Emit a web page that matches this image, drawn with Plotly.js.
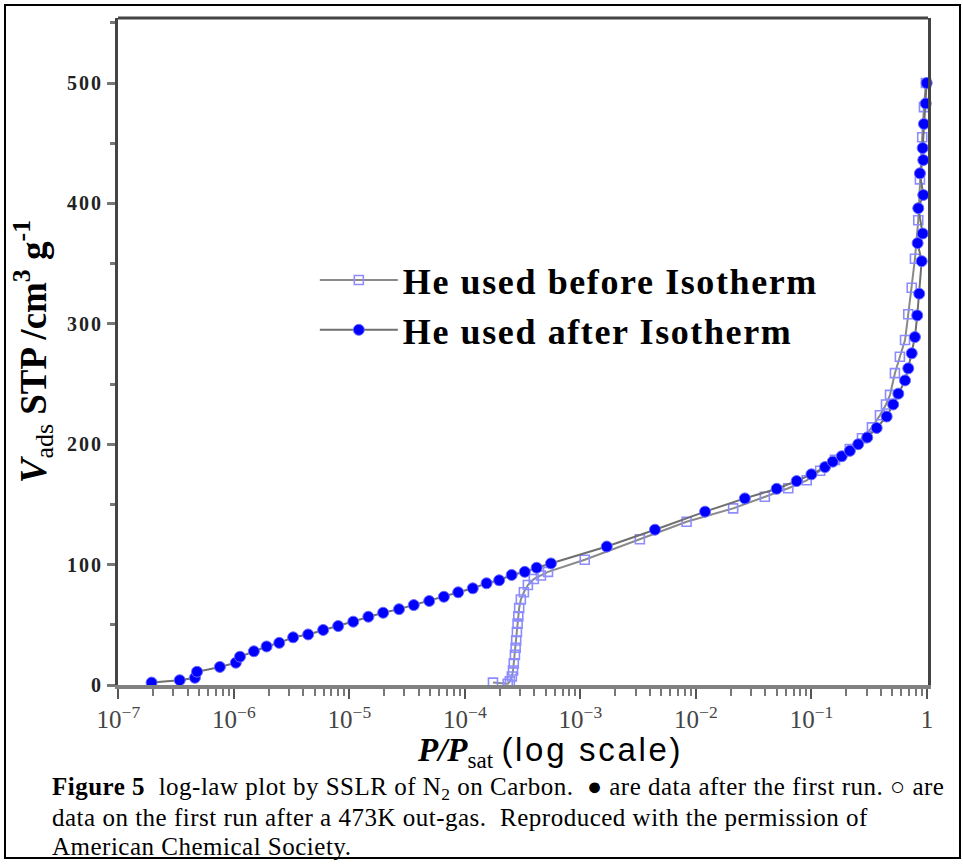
<!DOCTYPE html>
<html>
<head>
<meta charset="utf-8">
<script src="https://cdn.plot.ly/plotly-3.0.1.min.js"></script>
<style>html,body{margin:0;padding:0;background:#fff;}#chart{width:963px;height:865px;}</style>
</head>
<body>
<div id="chart"></div>
<script>
// "He used before Isotherm" (open squares)
const beforeP = [1.75e-4, 2.35e-4, 2.45e-4, 2.55e-4, 2.61e-4, 2.65e-4, 2.71e-4, 2.75e-4, 2.78e-4, 2.82e-4,
  2.86e-4, 2.90e-4, 2.95e-4, 3.05e-4, 3.24e-4, 3.51e-4, 3.95e-4, 4.55e-4, 5.24e-4,
  1.09e-3, 3.27e-3, 8.3e-3, 2.10e-2, 3.95e-2, 6.3e-2, 9.1e-2, 0.119, 0.160, 0.215, 0.274, 0.334, 0.392, 0.442,
  0.479, 0.528, 0.583, 0.646, 0.689, 0.738, 0.787, 0.841, 0.869, 0.91, 0.942, 0.98];
const beforeV = [2, 1, 3, 7, 12, 18, 25, 31, 37, 44,
  51, 57, 64, 71, 77, 83, 88, 91, 94,
  104, 121, 135.6, 146.7, 156.4, 163.4, 170, 178, 187, 196, 205, 214, 224, 233,
  241, 259, 272.7, 286.5, 308, 330, 354, 386, 420, 455, 480, 500];

// "He used after Isotherm" (filled circles)
const afterP = [1.94e-7, 3.4e-7, 4.6e-7, 4.8e-7, 7.57e-7, 1.04e-6, 1.13e-6, 1.49e-6, 1.92e-6, 2.47e-6,
  3.26e-6, 4.40e-6, 5.93e-6, 8.0e-6, 1.08e-5, 1.46e-5, 1.96e-5, 2.69e-5, 3.61e-5, 4.91e-5,
  6.58e-5, 8.75e-5, 1.17e-4, 1.54e-4, 1.98e-4, 2.54e-4, 3.30e-4, 4.18e-4, 5.56e-4, 1.69e-3,
  4.42e-3, 1.20e-2, 2.65e-2, 5.0e-2, 7.45e-2, 0.100, 0.131, 0.153, 0.183, 0.215,
  0.254, 0.304, 0.367, 0.448, 0.510, 0.565, 0.646, 0.689, 0.738, 0.787,
  0.824, 0.857, 0.90, 0.83, 0.918, 0.841, 0.929, 0.869, 0.929, 0.918, 0.942, 0.975, 0.993];
const afterV = [2, 4, 6, 11, 15, 18.5, 23.5, 28, 32, 35,
  39.6, 42, 45.7, 49, 52.6, 56.7, 60, 63, 66.4, 69.8,
  73.3, 77, 80.3, 84.5, 87, 91.4, 94, 97.4, 101, 115,
  129, 144, 155, 163, 169.4, 175, 181, 185.5, 190, 194.5,
  200, 205.6, 213.5, 223, 233, 242, 253, 263, 275.5, 289,
  307, 325, 352, 367, 375, 396, 407, 425, 436, 446, 466, 483, 500];

const seriesNames = ['He used before Isotherm', 'He used after Isotherm'];
const yTickVals = [0, 100, 200, 300, 400, 500];
const yTickText = ['0', '100', '200', '300', '400', '500'];

const serif = 'Liberation Serif, Times New Roman, serif';
const spaced = (s, px) => '<span style="letter-spacing:' + px + 'px">' + s + '</span>';

const traces = [
  {
    x: beforeP, y: beforeV, name: spaced(seriesNames[0], 1.6), type: 'scatter', mode: 'lines+markers',
    line: {color: '#8a8a8a', width: 2},
    marker: {symbol: 'square-open', size: 9, color: '#8c8cff', line: {width: 1.6, color: '#8c8cff'}},
    cliponaxis: false
  },
  {
    x: afterP, y: afterV, name: spaced(seriesNames[1], 1.6), type: 'scatter', mode: 'lines+markers',
    line: {color: '#6f6f6f', width: 2},
    marker: {symbol: 'circle', size: 11, color: '#0000ff', line: {width: 1, color: '#6a6aff'}},
    cliponaxis: false
  }
];

const capFont = {family: serif, size: 25, color: '#000'};

const layout = {
  width: 963, height: 865,
  margin: {l: 118, r: 35, t: 18, b: 180},
  paper_bgcolor: '#ffffff', plot_bgcolor: '#ffffff',
  showlegend: true,
  legend: {
    x: 0.243, y: 0.652, xanchor: 'left', yanchor: 'top',
    bgcolor: 'rgba(0,0,0,0)', itemwidth: 78, tracegroupgap: 0,
    font: {family: serif, size: 36, color: '#000', weight: 'bold'}
  },
  xaxis: {
    type: 'log', range: [-7.003, 0.009], dtick: 1,
    exponentformat: 'power', showgrid: false, zeroline: false,
    showline: true, linecolor: '#808080', linewidth: 4,
    ticks: 'outside', ticklen: 10, tickwidth: 2, tickcolor: '#555',
    minor: {ticks: 'outside', ticklen: 7, tickwidth: 2, tickcolor: '#777', showgrid: false},
    tickfont: {family: serif, size: 20, color: '#444'},
    automargin: false
  },
  yaxis: {
    range: [0, 554], tickmode: 'array', tickvals: yTickVals, ticktext: yTickText.map(t => spaced(t, 2)),
    showgrid: false, zeroline: false,
    showline: true, mirror: true, linecolor: '#444', linewidth: 3,
    ticks: 'outside', ticklen: 8, tickwidth: 3, tickcolor: '#777',
    minor: {tickmode: 'linear', tick0: 0, dtick: 50, ticks: 'outside', ticklen: 5, tickwidth: 3, tickcolor: '#777', showgrid: false},
    tickfont: {family: serif, size: 20, color: '#222', weight: 'bold'},
    title: {text: '<b><i>V</i></b><sub>ads</sub><b> STP /cm<sup>3</sup> g<sup>-1</sup></b>',
            font: {family: serif, size: 37, color: '#000'}, standoff: 10},
    automargin: false
  },
  shapes: [
    {type: 'line', xref: 'paper', yref: 'paper', x0: 0, x1: 1, y0: 1, y1: 1, line: {color: '#444', width: 3}},
    {type: 'rect', xref: 'paper', yref: 'paper', x0: -0.1395, x1: 1.0395, y0: -0.2594, y1: 1.0195,
     line: {color: '#000', width: 2}, fillcolor: 'rgba(0,0,0,0)'}
  ],
  annotations: [
    {xref: 'paper', yref: 'paper', x: 0.533, y: -0.1005, xanchor: 'center', yanchor: 'middle', showarrow: false,
     text: '<b><i>P/P</i></b><sub>sat</sub> <span style="font-family:Liberation Sans;letter-spacing:2.7px">(log scale)</span>',
     font: {family: serif, size: 33, color: '#000'}},
    {xref: 'paper', yref: 'paper', x: -0.084, y: -0.1545, xanchor: 'left', yanchor: 'middle', showarrow: false,
     text: spaced('<b>Figure 5</b>  log-law plot by SSLR of N<sub>2</sub> on Carbon.  \u25CF are data after the first run. \u25CB are', 0.5),
     font: capFont},
    {xref: 'paper', yref: 'paper', x: -0.084, y: -0.1985, xanchor: 'left', yanchor: 'middle', showarrow: false,
     text: spaced('data on the first run after a 473K out-gas.  Reproduced with the permission of', 0.5),
     font: capFont},
    {xref: 'paper', yref: 'paper', x: -0.084, y: -0.2418, xanchor: 'left', yanchor: 'middle', showarrow: false,
     text: spaced('American Chemical Society.', 0.5),
     font: capFont}
  ]
};

Plotly.newPlot('chart', traces, layout, {displayModeBar: false, responsive: false});
</script>
</body>
</html>
